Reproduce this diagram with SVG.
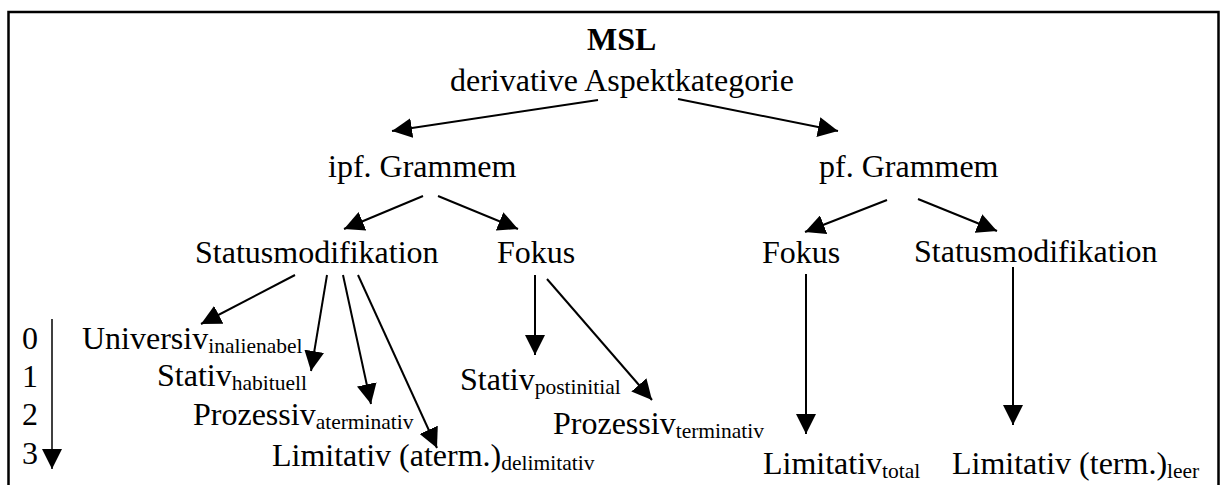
<svg xmlns="http://www.w3.org/2000/svg" width="1225" height="485" viewBox="0 0 1225 485">
<style>
text{font-family:'Liberation Serif','Times New Roman',serif;font-size:32px;fill:#000}
.b{font-weight:bold}
.sub{font-size:21.5px}
.c line{stroke:#000;stroke-width:2;marker-end:url(#ah)}
</style>
<defs>
<marker id="ah" markerUnits="userSpaceOnUse" markerWidth="20" markerHeight="20" viewBox="0 0 20 20" refX="20" refY="10" orient="auto">
<path d="M0,0 L20,10 L0,20 Z" fill="#000"/>
</marker>
</defs>
<rect x="8.5" y="12" width="1210" height="490" fill="none" stroke="#000" stroke-width="2.5"/>
<g id="root">
<text class="b" x="587" y="50">MSL</text>
<text x="450" y="91">derivative Aspektkategorie</text>
</g>
<g id="ipf"><text x="328" y="177">ipf. Grammem</text></g>
<g id="pf"><text x="819" y="177">pf. Grammem</text></g>
<g id="statusL"><text x="195" y="263">Statusmodifikation</text></g>
<g id="fokusL"><text x="497" y="263">Fokus</text></g>
<g id="fokusR"><text x="762" y="263">Fokus</text></g>
<g id="statusR"><text x="914" y="262">Statusmodifikation</text></g>
<g id="universiv"><text x="82" y="349">Universiv<tspan class="sub" dy="4">inalienabel</tspan></text></g>
<g id="stativH"><text x="157" y="386">Stativ<tspan class="sub" dy="4">habituell</tspan></text></g>
<g id="prozA"><text x="193" y="425">Prozessiv<tspan class="sub" dy="4">aterminativ</tspan></text></g>
<g id="limD"><text x="272" y="466">Limitativ (aterm.)<tspan class="sub" dy="4">delimitativ</tspan></text></g>
<g id="stativP"><text x="460" y="390">Stativ<tspan class="sub" dy="4">postinitial</tspan></text></g>
<g id="prozT"><text x="553" y="434">Prozessiv<tspan class="sub" dy="4">terminativ</tspan></text></g>
<g id="limT"><text x="763" y="474">Limitativ<tspan class="sub" dy="4">total</tspan></text></g>
<g id="limL"><text x="952" y="474">Limitativ (term.)<tspan class="sub" dy="4">leer</tspan></text></g>
<g id="scale">
<text x="22" y="349">0</text>
<text x="22" y="387">1</text>
<text x="22" y="425">2</text>
<text x="22" y="464">3</text>
</g>
<g id="connectors" class="c">
<line x1="598" y1="100" x2="392" y2="131"/>
<line x1="678" y1="99" x2="838" y2="131"/>
<line x1="423" y1="196" x2="344" y2="229"/>
<line x1="438" y1="196" x2="518" y2="229"/>
<line x1="887" y1="200" x2="805" y2="232"/>
<line x1="918" y1="199" x2="997" y2="231"/>
<line x1="295" y1="275" x2="201" y2="324"/>
<line x1="327" y1="275" x2="311" y2="371"/>
<line x1="343" y1="275" x2="371" y2="404"/>
<line x1="358" y1="275" x2="437" y2="448"/>
<line x1="535" y1="275" x2="535" y2="355"/>
<line x1="547" y1="279" x2="652" y2="400"/>
<line x1="806" y1="274" x2="806" y2="434"/>
<line x1="1013" y1="267" x2="1013" y2="425"/>
<line x1="52" y1="319" x2="52" y2="469" style="stroke-width:1.5"/>
</g>
</svg>
